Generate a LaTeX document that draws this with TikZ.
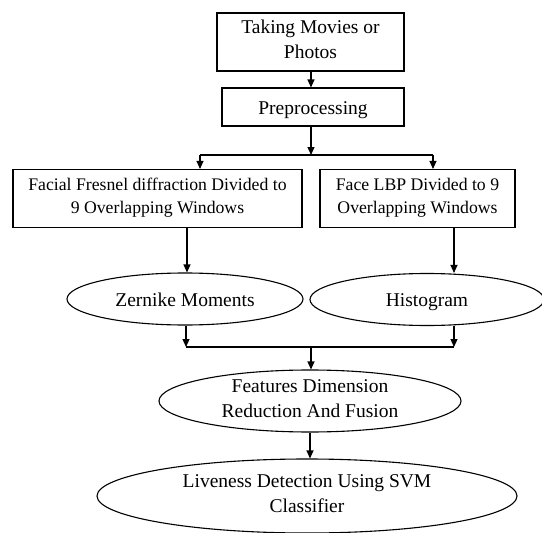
\documentclass[tikz,border=0pt]{standalone}
\usepackage{fontspec}
\setmainfont{Liberation Serif}
\usetikzlibrary{shapes.geometric,arrows.meta}
\newcommand\nodestrut{\rule[-5pt]{0pt}{24pt}}
\begin{document}
\begin{tikzpicture}[x=1pt,y=-1pt,
  line width=1.1pt,
  every node/.style={font=\fontsize{19.5}{25}\selectfont, align=center, inner sep=0pt,
    execute at begin node=\nodestrut, execute at end node=\nodestrut},
  boxnode/.style={draw, rectangle},
  smalltext/.style={font=\fontsize{17.7}{23}\selectfont},
  ellnode/.style={draw, ellipse},
  arr/.style={-{Triangle[width=7pt,length=8pt]}},
]
\useasboundingbox (0,0) rectangle (542,533);
\node[boxnode, minimum width=187pt, minimum height=58pt] (take) at (310.5,42) {Taking Movies or\\Photos};
\node[boxnode, minimum width=182pt, minimum height=38pt] (pre) at (313,107) {Preprocessing};
\node[boxnode, smalltext, minimum width=289pt, minimum height=58pt] (fres) at (157.5,198.5) {Facial Fresnel diffraction Divided to\\9 Overlapping Windows};
\node[boxnode, smalltext, minimum width=195pt, minimum height=58pt] (lbp) at (417.5,198.5) {Face LBP Divided to 9\\Overlapping Windows};
\node[ellnode, minimum width=236pt, minimum height=52pt] (zern) at (185,299) {Zernike Moments};
\node[ellnode, minimum width=234pt, minimum height=52pt] (hist) at (427,299.5) {Histogram};
\node[ellnode, minimum width=302pt, minimum height=62pt] (feat) at (310,401) {Features Dimension\\Reduction And Fusion};
\node[ellnode, minimum width=420pt, minimum height=74pt] (svm) at (307,496) {Liveness Detection Using SVM\\Classifier};

\coordinate (split) at (311,155);
\coordinate (sl) at (200,155);
\coordinate (sr) at (433,155);
\coordinate (zx) at (187,0);
\coordinate (hx) at (454,0);
\coordinate (ml) at (186,347);
\coordinate (mr) at (454,347);
\coordinate (mm) at (311,347);

\draw[arr] (take.south -| split) -- (pre.north -| split);
\draw[arr] (pre.south -| split) -- (split);
\draw (sl) -- (sr);
\draw[arr] (sl) -- (sl |- fres.north);
\draw[arr] (sr) -- (sr |- lbp.north);
\draw[arr] (fres.south -| zx) -- (zern.north -| zx);
\draw[arr] (lbp.south -| hx) -- (hist.north -| hx);
\draw[arr] (zern.south -| ml) -- (ml);
\draw[arr] (hist.south -| mr) -- (mr);
\draw (ml) -- (mr);
\draw[arr] (mm) -- (mm |- feat.north);
\draw[arr] (feat.south) -- (feat.south |- svm.north);
\end{tikzpicture}
\end{document}
